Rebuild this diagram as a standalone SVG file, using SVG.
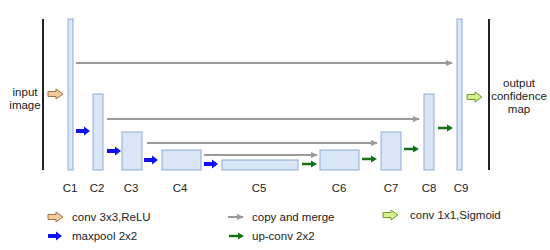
<svg xmlns="http://www.w3.org/2000/svg" width="550" height="250" viewBox="0 0 550 250">
<defs>
<style>
.box{fill:#d9e6f8;stroke:#8eacd6;stroke-width:1}
.t{font-family:"Liberation Sans",Arial,sans-serif;font-size:11.5px;fill:#222}
.tc{font-family:"Liberation Sans",Arial,sans-serif;font-size:11.5px;fill:#222;text-anchor:middle}
.copy{stroke:#9a9a9a;stroke-width:2;fill:none}
.pool{fill:#1010f0}
.up{fill:#137213}
.conv{fill:#f7c89c;stroke:#9b7449;stroke-width:1}
.sig{fill:#d3ef8f;stroke:#6f9a2a;stroke-width:1}
.edge{stroke:#222;stroke-width:2}
</style>
<path id="pa" d="M0,-2 H8 V-4.5 L14,0 L8,4.5 V2 H0 Z"/>
<path id="ua" d="M0,-1.3 H9 V-3.5 L15,0 L9,3.5 V1.3 H0 Z"/>
<path id="ca" d="M0,-2.5 H8 V-5 L15,0 L8,5 V2.5 H0 Z"/>
<marker id="gh" markerWidth="8" markerHeight="8" refX="6" refY="3" orient="auto" markerUnits="userSpaceOnUse">
<path d="M0,0 L7,3 L0,6 Z" fill="#9a9a9a"/>
</marker>
</defs>
<rect width="550" height="250" fill="#fff"/>
<line class="edge" x1="43" y1="19" x2="43" y2="170"/>
<line class="edge" x1="489" y1="19" x2="489" y2="170"/>
<g id="input"><text class="tc" x="25" y="96">input</text><text class="tc" x="25" y="109">image</text></g>
<g id="output"><text class="tc" x="519" y="87">output</text><text class="tc" x="519" y="100">confidence</text><text class="tc" x="519" y="113">map</text></g>
<g id="C1"><rect class="box" x="68" y="19" width="5" height="151"/><text class="tc" x="70" y="192">C1</text></g>
<g id="C2"><rect class="box" x="93" y="94" width="10" height="76"/><text class="tc" x="97" y="192">C2</text></g>
<g id="C3"><rect class="box" x="122" y="132" width="20" height="38"/><text class="tc" x="131" y="192">C3</text></g>
<g id="C4"><rect class="box" x="162" y="150" width="39" height="20"/><text class="tc" x="180" y="192">C4</text></g>
<g id="C5"><rect class="box" x="222" y="160" width="76" height="10"/><text class="tc" x="259" y="192">C5</text></g>
<g id="C6"><rect class="box" x="320" y="150" width="39" height="20"/><text class="tc" x="339" y="192">C6</text></g>
<g id="C7"><rect class="box" x="381" y="132" width="20" height="38"/><text class="tc" x="391" y="192">C7</text></g>
<g id="C8"><rect class="box" x="424" y="94" width="10" height="76"/><text class="tc" x="429" y="192">C8</text></g>
<g id="C9"><rect class="box" x="457" y="19" width="5" height="151"/><text class="tc" x="461" y="192">C9</text></g>
<g id="connectors">
<line class="copy" x1="76" y1="63" x2="452" y2="63" marker-end="url(#gh)"/>
<line class="copy" x1="107" y1="119" x2="419" y2="119" marker-end="url(#gh)"/>
<line class="copy" x1="147" y1="143" x2="377" y2="143" marker-end="url(#gh)"/>
<line class="copy" x1="204" y1="155" x2="317" y2="155" marker-end="url(#gh)"/>
<use href="#pa" class="pool" transform="translate(76,131)"/>
<use href="#pa" class="pool" transform="translate(107,151)"/>
<use href="#pa" class="pool" transform="translate(144,160)"/>
<use href="#pa" class="pool" transform="translate(204,164)"/>
<use href="#ua" class="up" transform="translate(302,164)"/>
<use href="#ua" class="up" transform="translate(362,159)"/>
<use href="#ua" class="up" transform="translate(404,149)"/>
<use href="#ua" class="up" transform="translate(438,128)"/>
<use href="#ca" class="conv" transform="translate(48,94)"/>
<use href="#ca" class="sig" transform="translate(467,97)"/>
</g>
<g id="legend">
<use href="#ca" class="conv" transform="translate(48,217)"/>
<text class="t" x="72" y="221">conv 3x3,ReLU</text>
<use href="#pa" class="pool" transform="translate(48,236)"/>
<text class="t" x="72" y="240">maxpool 2x2</text>
<line class="copy" x1="228" y1="217" x2="243" y2="217" marker-end="url(#gh)"/>
<text class="t" x="252" y="221">copy and merge</text>
<use href="#ua" class="up" transform="translate(229,236)"/>
<text class="t" x="252" y="240">up-conv 2x2</text>
<use href="#ca" class="sig" transform="translate(383,215)"/>
<text class="t" x="410" y="219">conv 1x1,Sigmoid</text>
</g>
</svg>
